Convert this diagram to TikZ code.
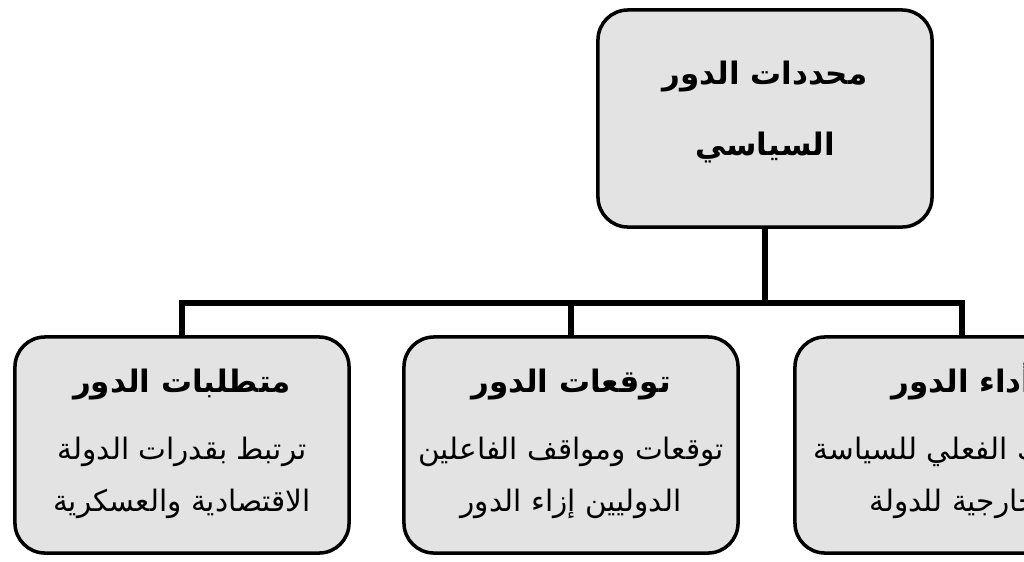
\documentclass[tikz,border=0pt]{standalone}
\usepackage{fontspec}
\newfontfamily\arabicfont[Script=Arabic]{DejaVu Sans}
\TeXXeTstate=1
\usetikzlibrary{positioning}
\begin{document}
\begin{tikzpicture}[x=0.025cm,y=-0.025cm]
    \tikzstyle{box}=[draw, line width=2.5pt, rounded corners=0.75cm, fill=gray!22,
      minimum width=8.35cm, minimum height=5.4cm, inner sep=0pt]
    \tikzstyle{head}=[font=\arabicfont\bfseries\fontsize{22}{50}\selectfont, align=center]
    \tikzstyle{body}=[font=\arabicfont\fontsize{21}{37}\selectfont, align=center]
    \tikzstyle{link}=[line width=4pt]

    \useasboundingbox[clip] (0,0) rectangle (1024,561);
    \fill[white] (0,0) rectangle (1024,561);

    \node[box, minimum height=5.425cm] (top) at (765,118.5) {};
    \node[head] at (765,112) {\beginR محددات الدور\endR\\\beginR السياسي\endR};

    \node[box] (req) at (182,445) {};
    \node[box] (exp) at (571,445) {};
    \node[box] (perf) at (962,445) {};

    \node[head, anchor=base] (reqh) at (182,392) {\beginR متطلبات الدور\endR};
    \node[body] at (182,478) {\beginR ترتبط بقدرات الدولة\endR\\\beginR الاقتصادية والعسكرية\endR};
    \node[head, anchor=base] (exph) at (571,392) {\beginR توقعات الدور\endR};
    \node[body] at (571,478) {\beginR توقعات ومواقف الفاعلين\endR\\\beginR الدوليين إزاء الدور\endR};
    \node[head, anchor=base] (perfh) at (962,392) {\beginR أداء الدور\endR};
    \node[body] at (962,478) {\beginR السلوك الفعلي للسياسة\endR\\\beginR الخارجية للدولة\endR};

    \coordinate (hub) at (765,303);
    \draw[link] (top.south) -- (hub);
    \draw[link, line cap=rect] (req.north) |- (hub) -| (perf.north);
    \draw[link] (exp.north) -- (exp.north |- hub);
\end{tikzpicture}
\end{document}
